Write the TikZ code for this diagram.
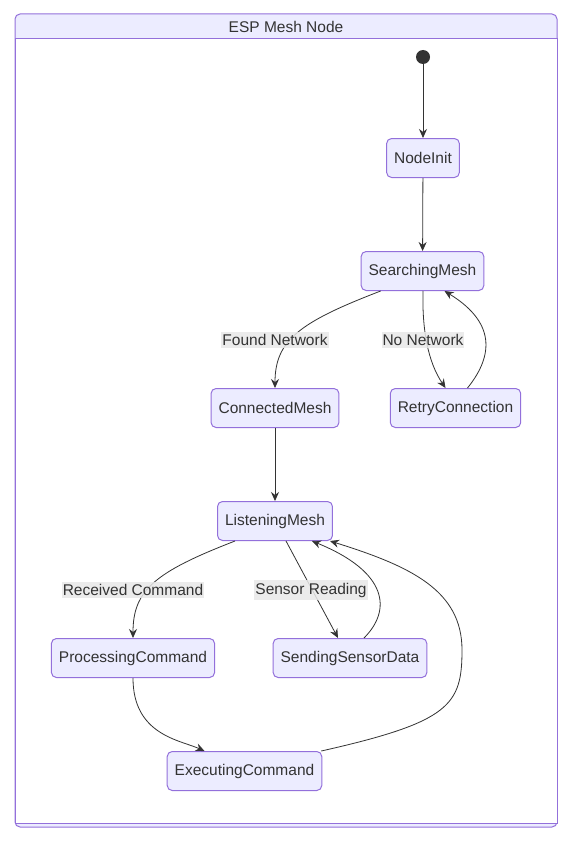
\documentclass[tikz,border=0pt]{standalone}
\usepackage{fontspec}
\setmainfont{Liberation Sans}
\usetikzlibrary{positioning, arrows.meta}
\definecolor{statefill}{HTML}{ECECFF}
\definecolor{stateline}{HTML}{9370DB}
\definecolor{txt}{HTML}{333333}
\definecolor{lblfill}{HTML}{E8E8E8}

\begin{document}
\begin{tikzpicture}[
    x=1pt, y=-1pt,
    font=\fontsize{15.5}{18}\selectfont,
    state/.style={rectangle, rounded corners=5pt, draw=stateline, fill=statefill, text=txt, minimum height=39pt, inner xsep=7.5pt, line width=1pt},
    edge/.style={draw=txt, line width=0.8pt, -{Stealth[length=9pt, width=8pt, inset=3pt]}},
    lbl/.style={fill=lblfill, fill opacity=0.85, text opacity=1, text=txt, inner xsep=1pt, inner ysep=2.5pt}
]
    \useasboundingbox (0,0) rectangle (571,843);

    % Cluster
    \draw[stateline, fill=statefill, line width=1pt, rounded corners=5pt] (15,14) rectangle (557,827);
    \draw[stateline, fill=white, line width=1pt] (15,39) rectangle (557,823);
    \node[text=txt] (title) at (286,27) {ESP Mesh Node};

    % Zustaende
    \node[circle, fill=txt, minimum size=14pt, inner sep=0pt] (start) at (423,57) {};
    \node[state] (ni)  at (423,158) {NodeInit};
    \node[state] (sm)  at (422.5,271) {SearchingMesh};
    \node[state] (cm)  at (275,408) {ConnectedMesh};
    \node[state] (rc)  at (455.5,408) {RetryConnection};
    \node[state] (lm)  at (275,521) {ListeningMesh};
    \node[state] (pc)  at (133,658) {ProcessingCommand};
    \node[state] (ssd) at (350,658) {SendingSensorData};
    \node[state] (ec)  at (244.5,771) {ExecutingCommand};

    % Uebergaenge
    \draw[edge] (start) -- (ni);
    \draw[edge] (ni) -- (sm);
    \draw[edge] ([xshift=20pt]sm.south west) .. controls (300,322) and (275,340) .. (cm.north);
    \draw[edge] ([xshift=0.5pt]sm.south) .. controls (422,330) and (428,362) .. ([xshift=-10pt]rc.north);
    \draw[edge] ([xshift=12pt]rc.north) .. controls (490,360) and (500,325) .. ([xshift=22pt]sm.south);
    \draw[edge] (cm) -- (lm);
    \draw[edge] ([xshift=18pt]lm.south west) .. controls (155,572) and (133,590) .. (pc.north);
    \draw[edge] ([xshift=11pt]lm.south) -- ([xshift=-12pt]ssd.north);
    \draw[edge] ([xshift=14pt]ssd.north) .. controls (392,610) and (388,572) .. ([xshift=37pt]lm.south);
    \draw[edge] (pc.south) .. controls (133,735) and (180,740) .. ([xshift=-40pt]ec.north);
    \draw[edge] ([xshift=-1pt]ec.north east) .. controls (450,722) and (462,705) .. (462,650)
        .. controls (462,590) and (410,566) .. ([xshift=-3pt]lm.south east);

    % Beschriftungen
    \node[lbl] (l1) at (275,340) {Found Network};
    \node[lbl] (l2) at (423,340) {No Network};
    \node[lbl] (l3) at (133,590) {Received Command};
    \node[lbl] (l4) at (311,590) {Sensor Reading};
\end{tikzpicture}
\end{document}
